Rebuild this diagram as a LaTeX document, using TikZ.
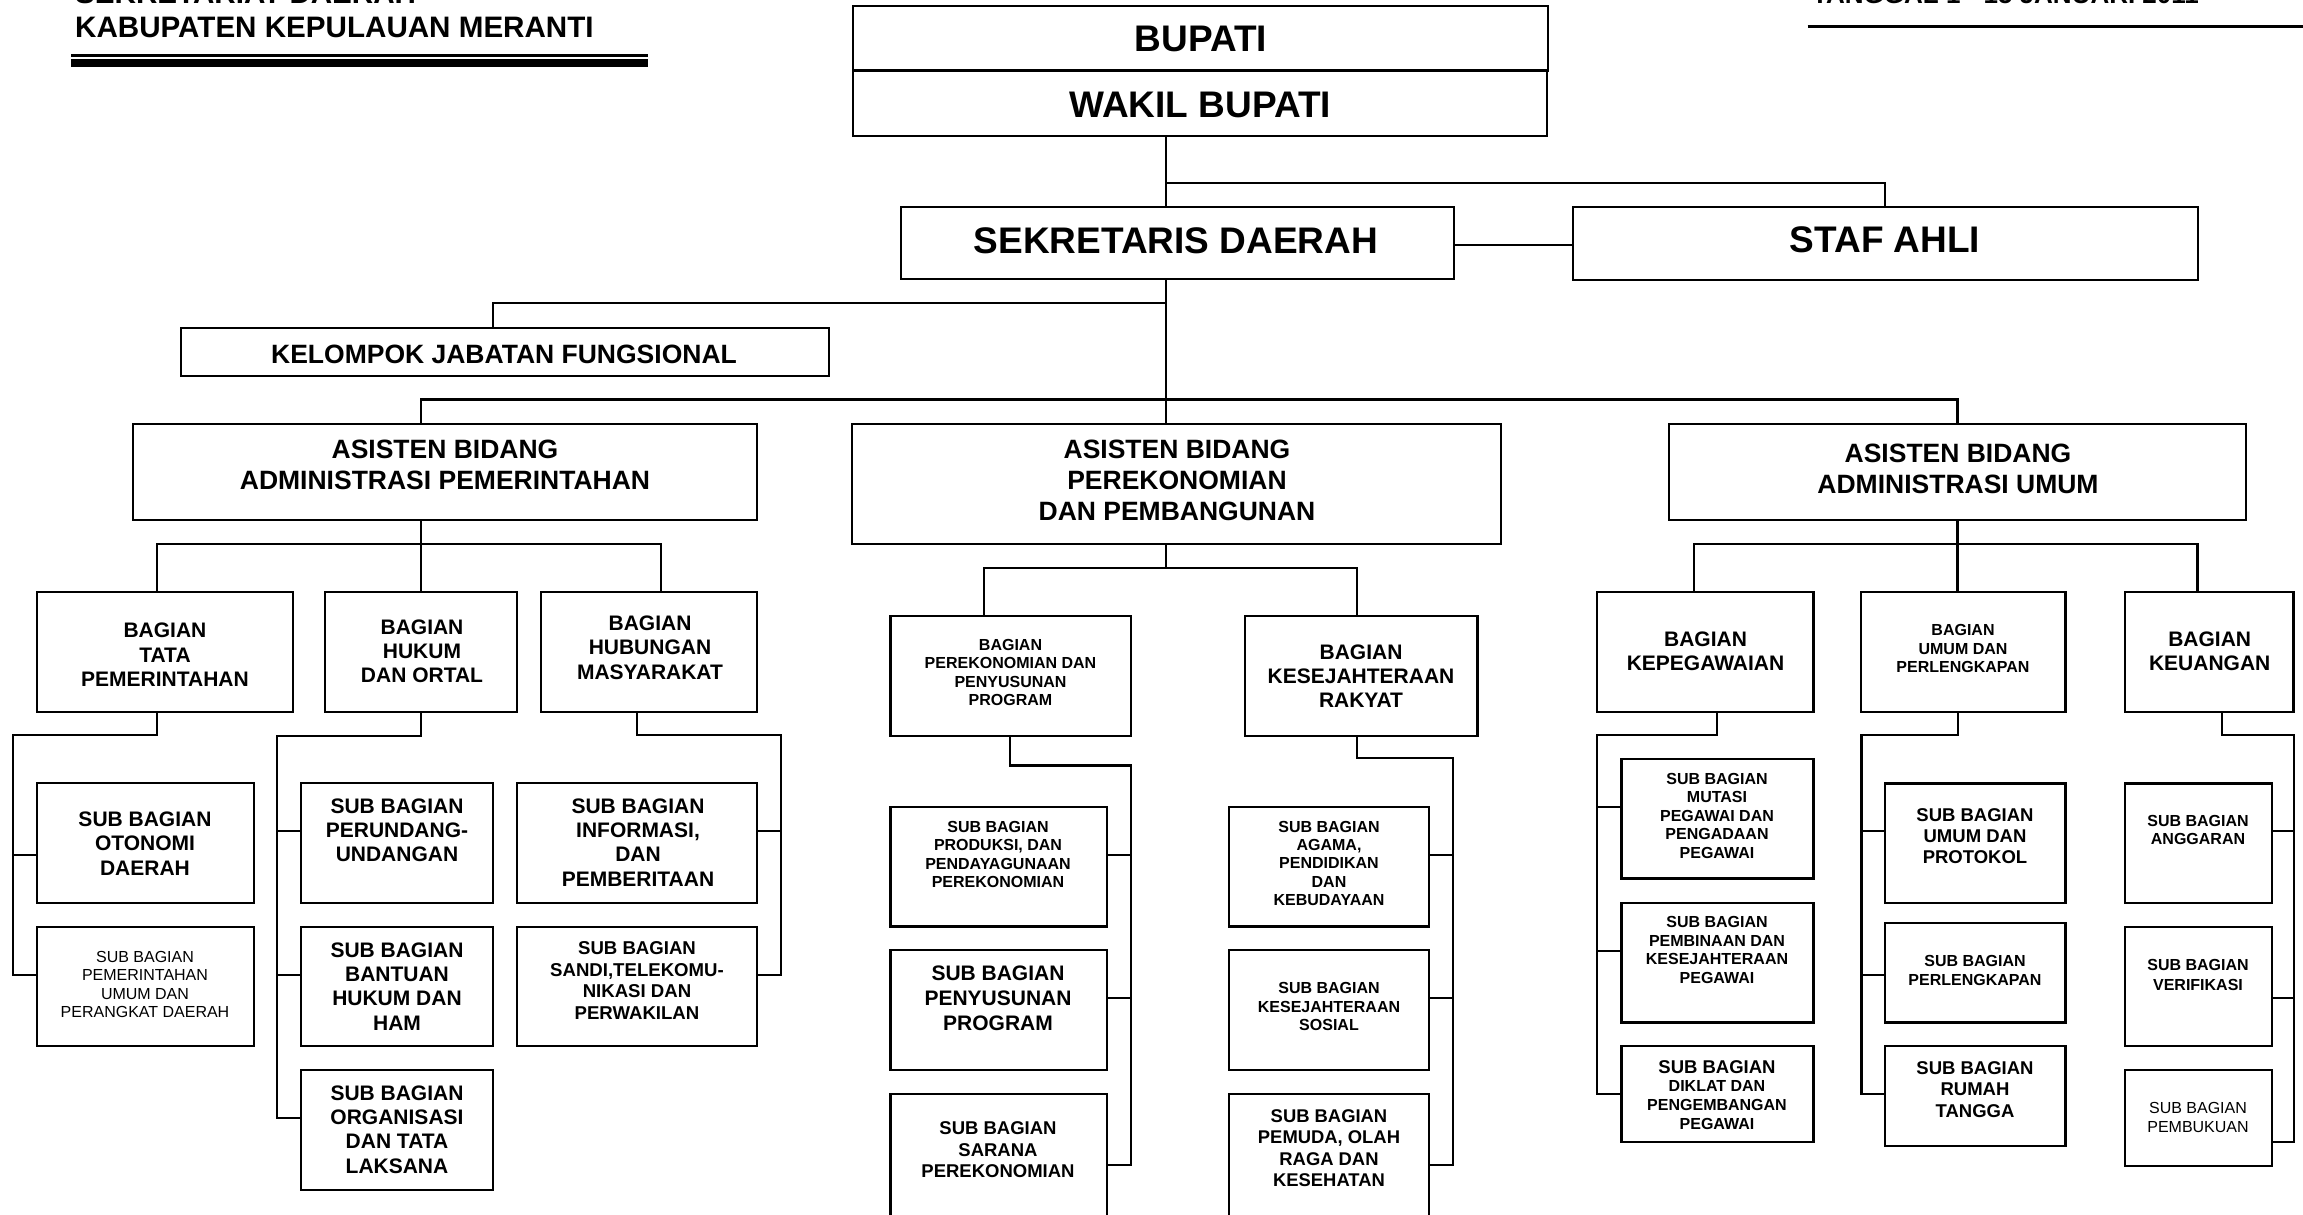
\documentclass[tikz,border=0pt]{standalone}
\usepackage{fontspec}
\setmainfont{Liberation Sans}
\tikzset{
  box/.style={draw, line width=2.4pt, rectangle, inner sep=0pt},
  conn/.style={draw, line width=2.2pt, line join=miter},
  tb/.style 2 args={align=center, inner sep=0pt, font={\fontsize{#1}{#2}\selectfont\bfseries}},
  tr/.style 2 args={align=center, inner sep=0pt, font={\fontsize{#1}{#2}\selectfont}},
}
\newcommand\bx[5]{\node[box, minimum width={((#4)-(#2))*1pt}, minimum height={((#5)-(#3))*1pt}] (#1) at ({((#2)+(#4))/2},{((#3)+(#5))/2}) {};}
\begin{document}
\begin{tikzpicture}[x=1pt,y=-1pt]
\useasboundingbox (0,0) rectangle (2303,1215);
\clip (0,0) rectangle (2303,1215);

% header
\node[anchor=base west, tb={29.6}{34}] (h1) at (75,3.5) {SEKRETARIAT DAERAH};
\node[anchor=base west, tb={29.6}{34}] (h2) at (75,37.3) {KABUPATEN KEPULAUAN MERANTI};
\draw[line width=2.5pt] (71.4,55.5) -- (648,55.5);
\draw[line width=7.4pt] (71.4,63) -- (648,63);
\node[anchor=base west, tb={26}{30}] (h3) at (1812,4) {TANGGAL 1 - 15 JANUARI 2011};
\draw[line width=2.5pt] (1807.5,26.7) -- (2303,26.7);

% top boxes
\bx{bupati}{853}{6}{1548}{70.7}
\bx{wakil}{853}{70.7}{1547}{136}
\bx{sek}{901}{207}{1454}{279}
\bx{staf}{1573}{207}{2198}{280}
\bx{kjf}{181}{328}{829}{376}
\bx{asA}{133}{424}{757}{520}
\bx{asB}{852}{424}{1501}{544}
\bx{asC}{1669}{424}{2246}{520}
\node[tb={37}{42}] (bupati-t) at (1201,39) {BUPATI};
\node[tb={37}{42}] (wakil-t) at (1200,104.5) {WAKIL BUPATI};
\node[tb={37}{42}] (sek-t) at (1176,241) {SEKRETARIS DAERAH};
\node[tb={37}{42}] (staf-t) at (1885,240) {STAF AHLI};
\node[tb={26.5}{31}] (kjf-t) at (504,354) {KELOMPOK JABATAN FUNGSIONAL};
\node[tb={26.5}{31}] (asA-t) at (445,465) {ASISTEN BIDANG\\ADMINISTRASI PEMERINTAHAN};
\node[tb={26.5}{31}] (asB-t) at (1177,480.5) {ASISTEN BIDANG\\PEREKONOMIAN\\DAN PEMBANGUNAN};
\node[tb={26.5}{31.5}] (asC-t) at (1958,469) {ASISTEN BIDANG\\ADMINISTRASI UMUM};

% group A
\bx{tata}{37}{592}{293}{712}
\bx{hukum}{325}{592}{517}{712}
\bx{humas}{541}{592}{757}{712}
\node[tb={21}{24.5}] (tata-t) at (165,655) {BAGIAN\\TATA\\PEMERINTAHAN};
\node[tb={21}{24}] (hukum-t) at (422,651.5) {BAGIAN\\HUKUM\\DAN ORTAL};
\node[tb={21}{24.5}] (humas-t) at (650,647.5) {BAGIAN\\HUBUNGAN\\MASYARAKAT};
\bx{oto}{37}{783}{254}{903}
\bx{pu}{37}{927}{254}{1046}
\bx{perund}{301}{783}{493}{903}
\bx{bantuan}{301}{927}{493}{1046}
\bx{organ}{301}{1070}{493}{1190}
\bx{info}{517}{783}{757}{903}
\bx{sandi}{517}{927}{757}{1046}
\node[tb={21}{24.5}] (oto-t) at (145,843.5) {SUB BAGIAN\\OTONOMI\\DAERAH};
\node[tr={16}{18.5}] (pu-t) at (145,984.5) {SUB BAGIAN\\PEMERINTAHAN\\UMUM DAN\\PERANGKAT DAERAH};
\node[tb={21}{24}] (perund-t) at (397,830) {SUB BAGIAN\\PERUNDANG-\\UNDANGAN};
\node[tb={21}{24.3}] (bantuan-t) at (397,986.5) {SUB BAGIAN\\BANTUAN\\HUKUM DAN\\HAM};
\node[tb={21}{24.3}] (organ-t) at (397,1129.5) {SUB BAGIAN\\ORGANISASI\\DAN TATA\\LAKSANA};
\node[tb={21}{24.3}] (info-t) at (638,842.5) {SUB BAGIAN\\INFORMASI,\\DAN\\PEMBERITAAN};
\node[tb={18.6}{21.6}] (sandi-t) at (637,980.5) {SUB BAGIAN\\SANDI,TELEKOMU-\\NIKASI DAN\\PERWAKILAN};

% group B
\bx{bperek}{890.6}{616}{1131}{735.7}
\bx{bkesra}{1245}{616}{1477.6}{735.7}
\node[tb={16}{18.3}] (bperek-t) at (1010.5,672.5) {BAGIAN\\PEREKONOMIAN DAN\\PENYUSUNAN\\PROGRAM};
\node[tb={21}{24.2}] (bkesra-t) at (1361,676) {BAGIAN\\KESEJAHTERAAN\\RAKYAT};
\bx{prod}{890.6}{807}{1106.7}{926.6}
\bx{penyus}{890.6}{950}{1106.7}{1070}
\bx{sarana}{890.6}{1094}{1106.7}{1240}
\bx{agama}{1229}{807}{1429}{926.6}
\bx{kesos}{1229}{950}{1429}{1070}
\bx{pemuda}{1229}{1094}{1429}{1240}
\node[tb={16}{18.6}] (prod-t) at (998,854.5) {SUB BAGIAN\\PRODUKSI, DAN\\PENDAYAGUNAAN\\PEREKONOMIAN};
\node[tb={21}{24.6}] (penyus-t) at (998,998.3) {SUB BAGIAN\\PENYUSUNAN\\PROGRAM};
\node[tb={18.5}{21.3}] (sarana-t) at (998,1149.8) {SUB BAGIAN\\SARANA\\PEREKONOMIAN};
\node[tb={16}{18.4}] (agama-t) at (1329,863.4) {SUB BAGIAN\\AGAMA,\\PENDIDIKAN\\DAN\\KEBUDAYAAN};
\node[tb={16}{18.3}] (kesos-t) at (1329,1006.7) {SUB BAGIAN\\KESEJAHTERAAN\\SOSIAL};
\node[tb={18.4}{21.5}] (pemuda-t) at (1329,1148) {SUB BAGIAN\\PEMUDA, OLAH\\RAGA DAN\\KESEHATAN};

% group C
\bx{kepeg}{1597}{592}{1813.5}{712}
\bx{umum}{1861}{592}{2065.6}{712}
\bx{keu}{2125}{592}{2293.6}{712}
\node[tb={21}{23.7}] (kepeg-t) at (1705.5,651.5) {BAGIAN\\KEPEGAWAIAN};
\node[tb={16}{18.5}] (umum-t) at (1963,648.5) {BAGIAN\\UMUM DAN\\PERLENGKAPAN};
\node[tb={21}{23.7}] (keu-t) at (2209.7,651.5) {BAGIAN\\KEUANGAN};
\bx{mutasi}{1621.6}{759}{1813.5}{878.6}
\bx{pembin}{1621.6}{903}{1813.5}{1022.5}
\bx{diklat}{1621.6}{1046}{1813.5}{1141.7}
\bx{protokol}{1885}{783.5}{2065.6}{903}
\bx{perl}{1885}{923}{2065.6}{1022.5}
\bx{rumah}{1885}{1046}{2065.6}{1146}
\bx{angg}{2125}{783.5}{2272}{903}
\bx{verif}{2125}{927}{2272}{1046}
\bx{pembuk}{2125}{1070}{2272}{1166}
\node[tb={16}{18.4}] (mutasi-t) at (1717,815.7) {SUB BAGIAN\\MUTASI\\PEGAWAI DAN\\PENGADAAN\\PEGAWAI};
\node[tb={16}{18.5}] (pembin-t) at (1717,950.2) {SUB BAGIAN\\PEMBINAAN DAN\\KESEJAHTERAAN\\PEGAWAI};
\node[tb={16}{18.8}] (diklat-t) at (1717,1095) {{\fontsize{18.5}{21}\selectfont SUB BAGIAN}\\DIKLAT DAN\\PENGEMBANGAN\\PEGAWAI};
\node[tb={18.5}{20.8}] (protokol-t) at (1975,836) {SUB BAGIAN\\UMUM DAN\\PROTOKOL};
\node[tb={16}{18.6}] (perl-t) at (1975,970.7) {SUB BAGIAN\\PERLENGKAPAN};
\node[tb={18.5}{21.5}] (rumah-t) at (1975,1089.6) {SUB BAGIAN\\RUMAH\\TANGGA};
\node[tb={16}{18}] (angg-t) at (2198,830) {SUB BAGIAN\\ANGGARAN};
\node[tb={16}{20}] (verif-t) at (2198,975) {SUB BAGIAN\\VERIFIKASI};
\node[tr={16}{19.4}] (pembuk-t) at (2198,1117.7) {SUB BAGIAN\\PEMBUKUAN};

% top connectors
\coordinate (jw) at (1166,183);
\coordinate (jk) at (1166,303.3);
\coordinate (jb) at (1166,399.5);
\draw[conn] (wakil.south -| jw) -- (sek.north -| jw);
\draw[conn] (jw) -| (staf.north -| 1885,0);
\draw[conn] (sek.east |- 0,245) -- (staf.west |- 0,245);
\draw[conn] (sek.south -| jb) -- (jb);
\draw[conn] (jk) -| (kjf.north -| 493,0);
\draw[conn] (asA.north -| 421,0) |- (jb) -| (asC.north -| 1957.5,0);
\draw[conn] (jb) -- (asB.north -| jb);

% asisten to bagian
\draw[conn] (tata.north -| 157,0) |- (661,544) -- (humas.north -| 661,0);
\draw[conn] (asA.south -| 421,0) -- (hukum.north -| 421,0);
\draw[conn] (bperek.north -| 984,0) |- (1357,568) -- (bkesra.north -| 1357,0);
\draw[conn] (asB.south -| 1166,0) -- (1166,568);
\draw[conn] (kepeg.north -| 1693.6,0) |- (2197.4,544) -- (keu.north -| 2197.4,0);
\draw[conn] (asC.south -| 1957.5,0) -- (umum.north -| 1957.5,0);

% group A sub connectors
\draw[conn] (tata.south -| 157,0) |- (13,735) |- (oto.west |- 0,855);
\draw[conn] (13,855) |- (pu.west |- 0,975);
\draw[conn] (hukum.south -| 421,0) |- (277,736) |- (perund.west |- 0,830.6);
\draw[conn] (277,830.6) |- (bantuan.west |- 0,975);
\draw[conn] (277,975) |- (organ.west |- 0,1118);
\draw[conn] (humas.south -| 637,0) |- (781,735) |- (info.east |- 0,830.6);
\draw[conn] (781,830.6) |- (sandi.east |- 0,975);

% group B sub connectors
\draw[conn] (bperek.south -| 1010,0) |- (1131,765.5) |- (prod.east |- 0,855);
\draw[conn] (1131,855) |- (penyus.east |- 0,998);
\draw[conn] (1131,998) |- (sarana.east |- 0,1165);
\draw[conn] (bkesra.south -| 1357,0) |- (1453,757.7) |- (agama.east |- 0,855);
\draw[conn] (1453,855) |- (kesos.east |- 0,998);
\draw[conn] (1453,998) |- (pemuda.east |- 0,1165);

% group C sub connectors
\draw[conn] (kepeg.south -| 1717,0) |- (1597,735) |- (mutasi.west |- 0,807);
\draw[conn] (1597,807) |- (pembin.west |- 0,950.7);
\draw[conn] (1597,950.7) |- (diklat.west |- 0,1094);
\draw[conn] (umum.south -| 1957.6,0) |- (1861.4,735) |- (protokol.west |- 0,830.7);
\draw[conn] (1861.4,830.7) |- (perl.west |- 0,975);
\draw[conn] (1861.4,975) |- (rumah.west |- 0,1094);
\draw[conn] (keu.south -| 2221.6,0) |- (2293.6,735) |- (angg.east |- 0,830.7);
\draw[conn] (2293.6,830.7) |- (verif.east |- 0,998);
\draw[conn] (2293.6,998) |- (pembuk.east |- 0,1142);
\end{tikzpicture}
\end{document}
